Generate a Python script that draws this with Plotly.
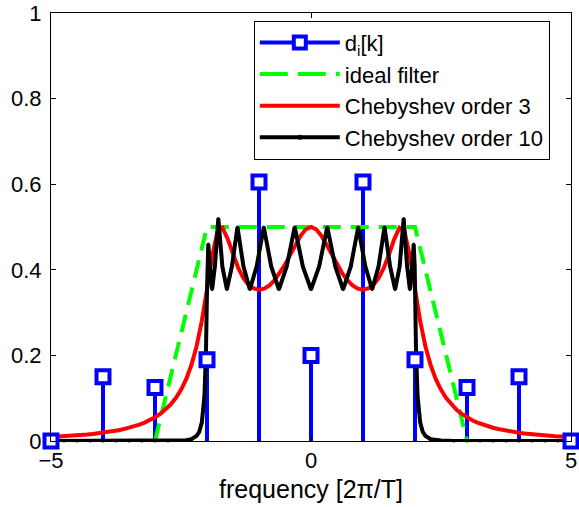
import plotly.graph_objects as go

# ---- data ----
STEM_K = [-5, -4, -3, -2, -1, 0, 1, 2, 3, 4, 5]
STEM_D = [0.0, 0.15, 0.125, 0.19, 0.605, 0.2, 0.605, 0.19, 0.125, 0.15, 0.0]

IDEAL_F = [-3, -2, 2, 3]
IDEAL_H = [0.0, 0.5, 0.5, 0.0]

RED_F = [round(-5 + 0.1 * i, 1) for i in range(101)]
RED_H = [0.0091, 0.0097, 0.0104, 0.0111, 0.0120, 0.0129, 0.0139, 0.0150, 0.0163, 0.0177,
         0.0192, 0.0210, 0.0230, 0.0253, 0.0279, 0.0309, 0.0343, 0.0384, 0.0430, 0.0486,
         0.0552, 0.0632, 0.0730, 0.0851, 0.1002, 0.1195, 0.1445, 0.1775, 0.2215, 0.2799,
         0.3536, 0.4326, 0.4887, 0.4978, 0.4716, 0.4358, 0.4042, 0.3807, 0.3650, 0.3563,
         0.3536, 0.3561, 0.3636, 0.3756, 0.3920, 0.4120, 0.4348, 0.4583, 0.4794, 0.4945,
         0.5000,
         0.4945, 0.4794, 0.4583, 0.4348, 0.4120, 0.3920, 0.3756, 0.3636, 0.3561, 0.3536,
         0.3563, 0.3650, 0.3807, 0.4042, 0.4358, 0.4716, 0.4978, 0.4887, 0.4326, 0.3536,
         0.2799, 0.2215, 0.1775, 0.1445, 0.1195, 0.1002, 0.0851, 0.0730, 0.0632, 0.0552,
         0.0486, 0.0430, 0.0384, 0.0343, 0.0309, 0.0279, 0.0253, 0.0230, 0.0210, 0.0192,
         0.0177, 0.0163, 0.0150, 0.0139, 0.0129, 0.0120, 0.0111, 0.0104, 0.0097, 0.0091]

BLACK_F = [-5.0, -4.75, -4.5, -4.25, -4.0, -3.75, -3.5, -3.25, -3.0, -2.75,
           -2.5, -2.4, -2.3, -2.2, -2.15, -2.1, -2.05, -2.02, -2.0, -1.994,
           -1.975, -1.945, -1.902, -1.848, -1.782, -1.705, -1.618, -1.521, -1.414, -1.299,
           -1.176, -1.045, -0.908, -0.765, -0.618, -0.467, -0.313, -0.157,
           0.0,
           0.157, 0.313, 0.467, 0.618, 0.765, 0.908, 1.045, 1.176, 1.299, 1.414,
           1.521, 1.618, 1.705, 1.782, 1.848, 1.902, 1.945, 1.975, 1.994, 2.0,
           2.02, 2.05, 2.1, 2.15, 2.2, 2.3, 2.4, 2.5, 2.75, 3.0,
           3.25, 3.5, 3.75, 4.0, 4.25, 4.5, 4.75, 5.0]
BLACK_H = [0, 0, 0, 0, 0, 0, 0, 0, 0, 0,
           0.001, 0.002, 0.004, 0.012, 0.021, 0.043, 0.104, 0.209, 0.354, 0.408,
           0.46, 0.408, 0.354, 0.408, 0.52, 0.408, 0.354, 0.408, 0.5, 0.408,
           0.354, 0.408, 0.5, 0.408, 0.354, 0.408, 0.5, 0.408,
           0.354,
           0.408, 0.5, 0.408, 0.354, 0.408, 0.5, 0.408, 0.354, 0.408, 0.5,
           0.408, 0.354, 0.408, 0.52, 0.408, 0.354, 0.408, 0.46, 0.408, 0.354,
           0.209, 0.104, 0.043, 0.021, 0.012, 0.004, 0.002, 0.001, 0, 0,
           0, 0, 0, 0, 0, 0, 0, 0]

BLUE = "#0000FF"
GREEN = "#00FF00"
RED = "#FF0000"
FONT = "Liberation Sans, Arial, Helvetica, sans-serif"

# stem segments built from the data
stem_x, stem_y = [], []
for k, d in zip(STEM_K, STEM_D):
    stem_x += [k, k, None]
    stem_y += [0, d, None]

fig = go.Figure()

fig.add_trace(go.Scatter(x=stem_x, y=stem_y, mode="lines",
                         line=dict(color=BLUE, width=4),
                         showlegend=False, hoverinfo="skip"))
fig.add_trace(go.Scatter(x=IDEAL_F, y=IDEAL_H, mode="lines",
                         line=dict(color=GREEN, width=4, dash="18px,10px"),
                         showlegend=False))
fig.add_trace(go.Scatter(x=RED_F, y=RED_H, mode="lines",
                         line=dict(color=RED, width=4), showlegend=False))
fig.add_trace(go.Scatter(x=BLACK_F, y=BLACK_H, mode="lines+markers",
                         line=dict(color="black", width=4),
                         marker=dict(color="black", size=3),
                         cliponaxis=False, showlegend=False))
fig.add_trace(go.Scatter(x=STEM_K, y=STEM_D, mode="markers",
                         marker=dict(symbol="square", size=13, color="white",
                                     line=dict(color=BLUE, width=4)),
                         cliponaxis=False, showlegend=False))

# legend entries
fig.add_trace(go.Scatter(x=[None], y=[None], mode="lines+markers",
                         name="d<sub>i</sub>[k]", legendgroup="a",
                         line=dict(color=BLUE, width=4),
                         marker=dict(symbol="square", size=12, color="white",
                                     line=dict(color=BLUE, width=4))))
fig.add_trace(go.Scatter(x=[None], y=[None], mode="lines", name="ideal filter",
                         legendgroup="b",
                         line=dict(color=GREEN, width=4, dash="28px,10px")))
fig.add_trace(go.Scatter(x=[None], y=[None], mode="lines", name="Chebyshev order 3",
                         legendgroup="c", line=dict(color=RED, width=4)))
fig.add_trace(go.Scatter(x=[None], y=[None], mode="lines+markers",
                         name="Chebyshev order 10", legendgroup="d",
                         line=dict(color="black", width=4),
                         marker=dict(color="black", size=5)))

axis_common = dict(showline=True, linecolor="black", linewidth=1, mirror="ticks",
                   ticks="inside", ticklen=5, tickcolor="black", showgrid=False,
                   zeroline=False, automargin=False,
                   tickfont=dict(family=FONT, size=22, color="black"))

fig.update_layout(
    width=579, height=507,
    margin=dict(l=51, r=8, t=13, b=66),
    paper_bgcolor="white", plot_bgcolor="white",
    font=dict(family=FONT, color="black"),
    xaxis=dict(range=[-5, 5], tickvals=[-5, 0, 5],
               title=dict(text="frequency [2π/T]", font=dict(family=FONT, size=25),
                          standoff=8),
               **axis_common),
    yaxis=dict(range=[0, 1], tickvals=[0, 0.2, 0.4, 0.6, 0.8, 1],
               ticktext=["0", "0.2", "0.4", "0.6", "0.8", "1"],
               ticklabelstandoff=4,
               **axis_common),
    legend=dict(x=0.39, y=0.982, xanchor="left", yanchor="top",
                bgcolor="white", bordercolor="black", borderwidth=1,
                font=dict(family=FONT, size=22, color="black"),
                traceorder="grouped", tracegroupgap=0, itemwidth=80),
    showlegend=True,
)

fig.write_html("out.html")
